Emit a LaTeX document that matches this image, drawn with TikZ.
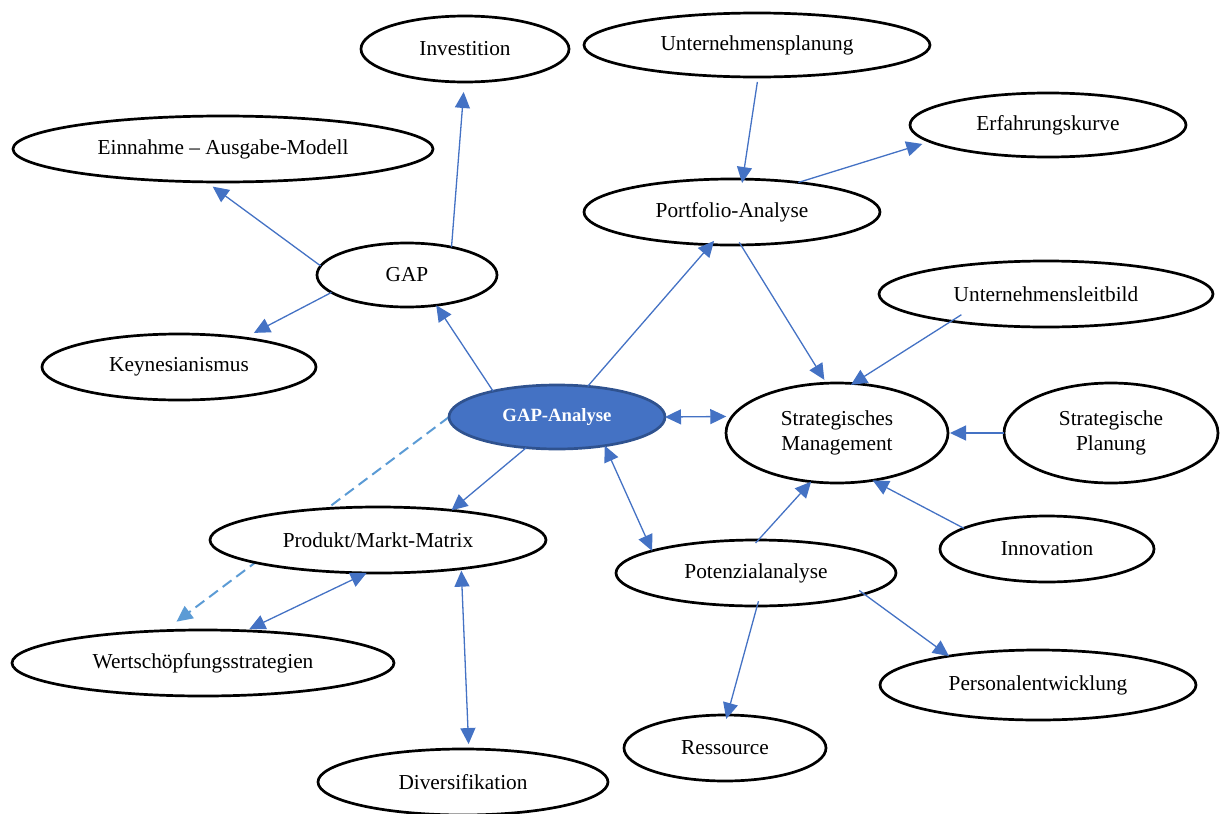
\documentclass[tikz,border=0pt]{standalone}
\usepackage{fontspec}
\setmainfont{Liberation Serif}
\usetikzlibrary{shapes.geometric,arrows.meta}
\definecolor{linkblue}{HTML}{4472C4}
\definecolor{dashblue}{HTML}{5B9BD5}
\definecolor{coreedge}{HTML}{2F528F}
\pgfdeclarelayer{behind}
\pgfsetlayers{behind,main}
\begin{document}
\begin{tikzpicture}[x=1pt,y=-1pt,
  bub/.style 2 args={ellipse, draw=black, line width=2.7pt, fill=white,
    inner sep=0pt, outer sep=0pt, minimum width=#1pt, minimum height=#2pt,
    font=\fontsize{21.3}{25}\selectfont, align=center},
  core/.style 2 args={bub={#1}{#2}, fill=linkblue, draw=coreedge, text=white,
    font=\fontsize{18.7}{22}\selectfont\bfseries},
  tip/.tip={Triangle[length=16pt,width=15pt]},
  link/.style={draw=linkblue, line width=1.3pt, -tip},
  both/.style={draw=linkblue, line width=1.3pt, tip-tip},
  hint/.style={draw=dashblue, line width=2pt, dash pattern=on 11pt off 6pt, -tip}]
\useasboundingbox (0,0) rectangle (1232,814);

% concept bubbles
\node[bub={208}{66}]  (inv)  at (465,49)  {Investition};
\node[bub={346}{64}]  (plan) at (757,45)  {Unternehmensplanung};
\node[bub={420}{66}]  (ein)  at (223,149) {Einnahme – Ausgabe-Modell};
\node[bub={276}{64}]  (erf)  at (1048,125) {Erfahrungskurve};
\node[bub={296}{66}]  (port) at (732,212) {Portfolio-Analyse};
\node[bub={180}{64}]  (gap)  at (407,275) {GAP};
\node[bub={334}{66}]  (leit) at (1046,294) {Unternehmensleitbild};
\node[bub={274}{66}]  (key)  at (179,367) {Keynesianismus};
\node[core={216}{64}] (ga)   at (557,417) {GAP-Analyse};
\node[bub={222}{100}] (sm)   at (837,433) {Strategisches\\Management};
\node[bub={214}{100}] (sp)   at (1111,433) {Strategische\\Planung};
\node[bub={336}{66}]  (pmm)  at (378,540) {Produkt/Markt-Matrix};
\node[bub={214}{66}]  (inn)  at (1047,549) {Innovation};
\node[bub={280}{66}]  (pot)  at (756,573) {Potenzialanalyse};
\node[bub={382}{66}]  (wert) at (203,663) {Wertschöpfungsstrategien};
\node[bub={316}{70}]  (pers) at (1038,685) {Personalentwicklung};
\node[bub={202}{66}]  (res)  at (725,748) {Ressource};
\node[bub={290}{66}]  (div)  at (463,782) {Diversifikation};

% dashed link runs underneath the Produkt/Markt-Matrix bubble
\begin{pgfonlayer}{behind}
\draw[hint, shorten >=15pt] (ga.180) -- (wert.140.7);
\end{pgfonlayer}

% connectors around GAP
\draw[link, shorten >=10pt] (gap.32.7) -- (inv.-91.7);
\draw[link, shorten >=8pt] (gap.174.3) -- (ein.-117.9);
\draw[link, shorten >=11pt] (gap.-167.4) -- (key.24.8);
\draw[link] (ga.158.5) -- (gap.-46.9);

% connectors around Portfolio-Analyse
\draw[link, shorten >=-5pt] (ga.45) -- (port.-123.2);
\draw[link, shorten <=5pt, shorten >=-4pt] (plan.-88.3) -- (port.72.7);
\draw[link, shorten >=8pt] (port.24.1) -- (erf.188.7);
\draw[link, shorten <=-3pt, shorten >=4pt] (port.-75) -- (sm.102.9);

% connectors into Strategisches Management
\draw[link, shorten <=-12pt, shorten >=-2.5pt] (leit.196.9) -- (sm.72.4);
\draw[link, shorten >=2pt] (sp.180) -- (sm.0);
\draw[link] (inn.166) -- (sm.-53.1);
\draw[link, shorten <=-4pt] (pot.86.2) -- (sm.-118.6);
\draw[both, shorten >=6pt] (ga.0) -- (sm.171.4);

% connectors below GAP-Analyse
\draw[both] (ga.-31.7) -- (pot.168.5);
\draw[link] (ga.-135.9) -- (pmm.22.1);
\draw[both, shorten >=4pt] (pmm.-109.4) -- (wert.37.5);
\draw[both, shorten <=2pt, shorten >=5pt] (pmm.-19.6) -- (div.80);
\draw[link, shorten <=-5pt, shorten >=-4pt] (pot.-88) -- (res.86.6);
\draw[link, shorten <=-6pt] (pot.-11.1) -- (pers.162.6);
\end{tikzpicture}
\end{document}
